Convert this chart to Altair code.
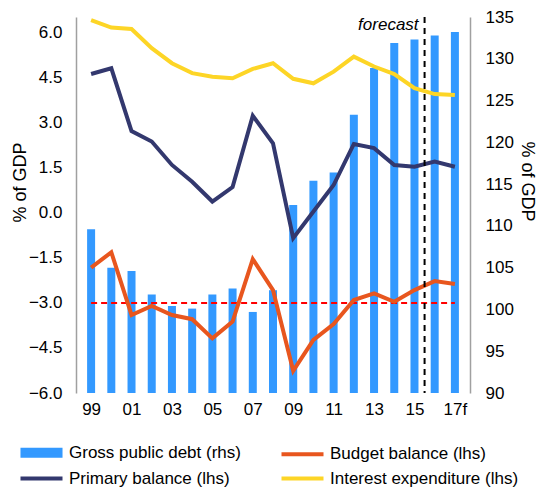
import altair as alt
import pandas as pd

years = ["99", "00", "01", "02", "03", "04", "05", "06", "07", "08",
         "09", "10", "11", "12", "13", "14", "15", "16", "17f"]
debt = [109.6, 105.0, 104.6, 101.8, 100.4, 100.1, 101.8, 102.5, 99.7, 102.3,
        112.5, 115.4, 116.4, 123.3, 128.9, 131.9, 132.3, 132.8, 133.2]
budget = [-1.82, -1.31, -3.40, -3.10, -3.40, -3.54, -4.18, -3.62, -1.54, -2.57,
          -5.26, -4.23, -3.70, -2.90, -2.68, -2.96, -2.57, -2.27, -2.37]
primary = [4.63, 4.82, 2.73, 2.38, 1.60, 1.04, 0.38, 0.86, 3.24, 2.32,
           -0.84, 0.05, 0.93, 2.30, 2.16, 1.60, 1.54, 1.71, 1.54]
interest = [6.43, 6.18, 6.13, 5.49, 4.99, 4.66, 4.54, 4.49, 4.80, 4.99,
            4.47, 4.32, 4.71, 5.21, 4.88, 4.63, 4.16, 3.96, 3.93]

series_names = ["Gross public debt (rhs)", "Budget balance (lhs)",
                "Primary balance (lhs)", "Interest expenditure (lhs)"]
series_colors = ["#3399FF", "#E8561E", "#33386E", "#FDD526"]

left_ticks = [-6.0, -4.5, -3.0, -1.5, 0.0, 1.5, 3.0, 4.5, 6.0]
right_ticks = [90, 95, 100, 105, 110, 115, 120, 125, 130, 135]
deficit_limit = -3.0
first_forecast_year = "16"
forecast_label = "forecast"
axis_title = "% of GDP"

FONT = "Liberation Sans"

idx = list(range(len(years)))
bars_df = pd.DataFrame({"i": idx, "debt": debt})
lines_df = pd.concat([
    pd.DataFrame({"i": idx, "value": vals, "series": name})
    for name, vals in zip(series_names[1:], [budget, primary, interest])
])
limit_df = pd.DataFrame({"i": [0], "i2": [len(years) - 1], "value": [deficit_limit]})
fc_df = pd.DataFrame({"i": [years.index(first_forecast_year) - 0.5], "label": [forecast_label]})

label_expr = "[" + ",".join("'%s'" % y for y in years) + "][datum.value]"

x_enc = alt.X(
    "i:Q",
    scale=alt.Scale(domain=[-0.5, len(years) - 0.5], nice=False, zero=False),
    axis=alt.Axis(values=idx[::2], labelExpr=label_expr, domain=False, ticks=False,
                  grid=False, title=None, labelPadding=8, labelFontSize=17,
                  labelFont=FONT, labelColor="#000"),
)

y_left = alt.Y(
    "value:Q",
    scale=alt.Scale(domain=[-6.0, 6.53], nice=False, zero=False),
    axis=alt.Axis(orient="left", values=left_ticks, format=".1f", grid=False,
                  ticks=False, domainColor="#A0A0A0", domainWidth=1.5,
                  labelFontSize=17, labelFont=FONT, labelColor="#000", labelPadding=14,
                  title=axis_title, titleFont=FONT, titleFontSize=18,
                  titleFontWeight="normal", titleColor="#000", titleAngle=270,
                  titleBaseline="middle", titleX=-56, titleY=165),
)

bars = alt.Chart(bars_df).mark_bar(size=8, color=series_colors[0]).encode(
    x=x_enc,
    y=alt.Y(
        "debt:Q",
        scale=alt.Scale(domain=[90, 135], nice=False, zero=False),
        axis=alt.Axis(orient="right", values=right_ticks, grid=False, ticks=False,
                      domainColor="#A0A0A0", domainWidth=1.5,
                      labelFontSize=17, labelFont=FONT, labelColor="#000", labelPadding=15,
                      title=axis_title, titleFont=FONT, titleFontSize=18,
                      titleFontWeight="normal", titleColor="#000", titleAngle=90,
                      titleBaseline="middle", titleX=56, titleY=164),
    ),
    y2=alt.datum(right_ticks[0]),
)

limit_rule = alt.Chart(limit_df).mark_rule(color="#FF0000", strokeDash=[6, 4], strokeWidth=2).encode(
    x=x_enc, x2="i2:Q", y=y_left,
)

is_bar_entry = "datum.value === '%s'" % series_names[0]
BAR_SHAPE = "M-0.67,-0.5L5.67,-0.5L5.67,0.5L-0.67,0.5Z"
LINE_SHAPE = "M-1,0L6,0"

lines = alt.Chart(lines_df).mark_line(strokeWidth=4).encode(
    x=x_enc,
    y=y_left,
    color=alt.Color(
        "series:N",
        scale=alt.Scale(domain=series_names, range=series_colors),
        legend=alt.Legend(
            title=None, orient="none", legendX=-58, legendY=427, columns=2,
            direction="horizontal",
            symbolType=alt.ExprRef(expr="%s ? '%s' : '%s'" % (is_bar_entry, BAR_SHAPE, LINE_SHAPE)),
            symbolFillColor=alt.ExprRef(expr="%s ? '%s' : 'transparent'" % (is_bar_entry, series_colors[0])),
            symbolSize=144, symbolStrokeWidth=4,
            labelFontSize=17, labelFont=FONT, labelColor="#000", labelOffset=34,
            labelLimit=0, columnPadding=32, rowPadding=5,
        ),
    ),
    detail="series:N",
)

fc_rule = alt.Chart(fc_df).mark_rule(color="#000", strokeDash=[6, 5], strokeWidth=2).encode(
    x=x_enc,
)
fc_text = alt.Chart(fc_df).mark_text(
    align="right", baseline="alphabetic", dx=-6, fontSize=17, fontStyle="italic",
    font=FONT, color="#000",
).encode(x=x_enc, y=alt.value(13), text="label:N")

left_layer = alt.layer(limit_rule, lines, fc_rule, fc_text)

chart = alt.layer(bars, left_layer).resolve_scale(y="independent").properties(
    width=394, height=376,
    autosize=alt.AutoSizeParams(type="none"),
    padding={"left": 68, "top": 9, "right": 66, "bottom": 96},
).configure_view(stroke="transparent")

chart.save("out.html", embed_options={"renderer": "svg", "actions": False})
